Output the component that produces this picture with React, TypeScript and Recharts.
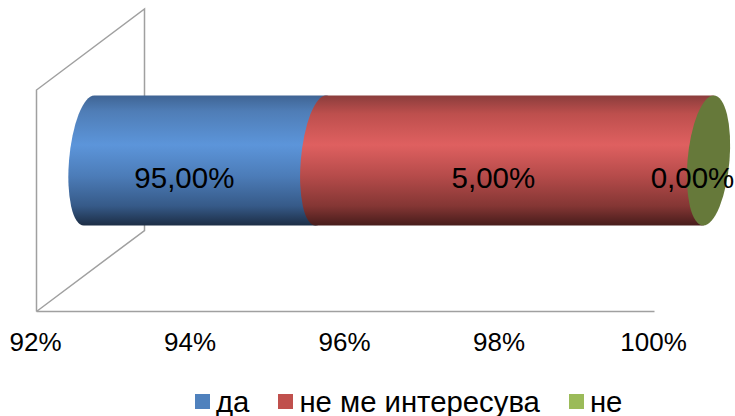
import { BarChart, Bar, XAxis, YAxis, Legend, LabelList, usePlotArea } from 'recharts'

const seriesNames = ['да', 'не ме интересува', 'не']
const seriesValues = [95, 5, 0]
const legendColors = ['#4f81bd', '#c0504d', '#9bbb59']
const axisMin = 92
const axisMax = 100
const axisTicks = [92, 94, 96, 98, 100]

// the bars are stored as ranges, the axis starts at 92 and not at 0
const row: Record<string, any> = { name: 'Q' }
let running = 0
seriesNames.forEach((name, i) => {
  const start = running
  running += seriesValues[i]
  row[name] = [Math.max(start, axisMin), running]
})
const chartData = [row]

// fake 3D depth of the Excel chart
const DEPTH_X = 54
const DEPTH_Y = -40.5
const TUBE_SHIFT = 52.5
const CAP_RX = 20
const SKEW = -4.6
const FONT = '"Liberation Sans", Arial, sans-serif'

function Cylinder(props: any) {
  const { x, y, width, height, gradient, capOnly } = props
  const left = x + TUBE_SHIFT
  const right = x + width + TUBE_SHIFT
  const h = height / 2
  const cy = y + h + DEPTH_Y
  if (capOnly) {
    return <ellipse cx={0} cy={0} rx={CAP_RX + 1} ry={h} fill={gradient} transform={`translate(${right + 1.5},${cy}) skewX(${SKEW})`} />
  }
  return (
    <path
      transform={`translate(0,${cy}) skewX(${SKEW})`}
      fill={gradient}
      d={`M${left},${-h} L${right},${-h} A${CAP_RX},${h} 0 0 1 ${right},${h} L${left},${h} A${CAP_RX},${h} 0 0 1 ${left},${-h} Z`}
    />
  )
}

function BackWall() {
  const plot = usePlotArea()
  if (!plot) return null
  const { x, y, height } = plot
  const dx = DEPTH_X * 2
  const dy = DEPTH_Y * 2
  return (
    <path
      d={`M${x},${y + height} L${x},${y} L${x + dx},${y + dy} L${x + dx},${y + height + dy} L${x},${y + height}`}
      fill="none"
      stroke="#a0a0a0"
      strokeWidth={1.5}
    />
  )
}

function makeLabel(seriesIndex: number, extra: number) {
  return (props: any) => {
    const { x, y, width, height } = props
    const text = seriesValues[seriesIndex].toFixed(2).replace('.', ',') + '%'
    return (
      <text
        x={x + width / 2 + 32 + extra}
        y={y + height / 2 + DEPTH_Y + 27}
        textAnchor="middle"
        fontSize={29.5}
        fontFamily={FONT}
        fill="#000"
      >
        {text}
      </text>
    )
  }
}

function renderLegend(props: any) {
  const items = props.payload || []
  return (
    <div style={{ display: 'flex', alignItems: 'center', paddingLeft: 195, fontFamily: FONT, fontSize: 29.3, color: '#000', lineHeight: '30px' }}>
      {items.map((item: any, i: number) => (
        <div key={i} style={{ display: 'flex', alignItems: 'center', marginRight: 29 }}>
          <span style={{ width: 15, height: 15, background: item.color, marginRight: 6 }} />
          <span>{item.value}</span>
        </div>
      ))}
    </div>
  )
}

export default function App() {
  return (
    <div style={{ position: 'absolute', left: 0, top: 0, width: 735, height: 416, background: '#fff', overflow: 'hidden' }}>
      <BarChart
        width={735}
        height={416}
        data={chartData}
        layout="vertical"
        barSize={130}
        barGap={-130}
        margin={{ top: 90, right: 80.5, bottom: 34.5, left: 36.5 }}
      >
        <defs>
          <linearGradient id="blueTube" x1="0" y1="0" x2="0" y2="1">
            <stop offset="0" stopColor="#3f6494" />
            <stop offset="0.12" stopColor="#4f7db6" />
            <stop offset="0.38" stopColor="#5c95da" />
            <stop offset="0.62" stopColor="#4c7cb8" />
            <stop offset="0.85" stopColor="#365a88" />
            <stop offset="1" stopColor="#1c2d45" />
          </linearGradient>
          <linearGradient id="redTube" x1="0" y1="0" x2="0" y2="1">
            <stop offset="0" stopColor="#8b3d3c" />
            <stop offset="0.14" stopColor="#bd4f4d" />
            <stop offset="0.38" stopColor="#df6060" />
            <stop offset="0.62" stopColor="#b54b4a" />
            <stop offset="0.85" stopColor="#843634" />
            <stop offset="1" stopColor="#471c1b" />
          </linearGradient>
        </defs>
        <BackWall />
        <XAxis
          type="number"
          domain={[axisMin, axisMax]}
          ticks={axisTicks}
          tickFormatter={(v: number) => `${v}%`}
          height={30}
          tickLine={false}
          tickMargin={15}
          axisLine={{ stroke: '#a0a0a0', strokeWidth: 1.5 }}
          tick={{ fontSize: 26, fontFamily: FONT, fill: '#000', dx: -1 }}
          interval={0}
        />
        <YAxis type="category" dataKey="name" hide />
        <Bar
          dataKey={seriesNames[0]}
          fill={legendColors[0]}
          isAnimationActive={false}
          shape={(p: any) => <Cylinder {...p} gradient="url(#blueTube)" />}
        >
          <LabelList content={makeLabel(0, 0)} />
        </Bar>
        <Bar
          dataKey={seriesNames[1]}
          fill={legendColors[1]}
          isAnimationActive={false}
          shape={(p: any) => <Cylinder {...p} gradient="url(#redTube)" />}
        >
          <LabelList content={makeLabel(1, 0)} />
        </Bar>
        <Bar
          dataKey={seriesNames[2]}
          fill={legendColors[2]}
          isAnimationActive={false}
          shape={(p: any) => <Cylinder {...p} gradient="#66793a" capOnly />}
        >
          <LabelList content={makeLabel(2, 6)} />
        </Bar>
        <Legend
          verticalAlign="bottom"
          height={40}
          itemSorter={null}
          content={renderLegend}
          wrapperStyle={{ position: 'absolute', left: 0, top: 386.5, bottom: 'auto', width: 735 }}
        />
      </BarChart>
    </div>
  )
}
